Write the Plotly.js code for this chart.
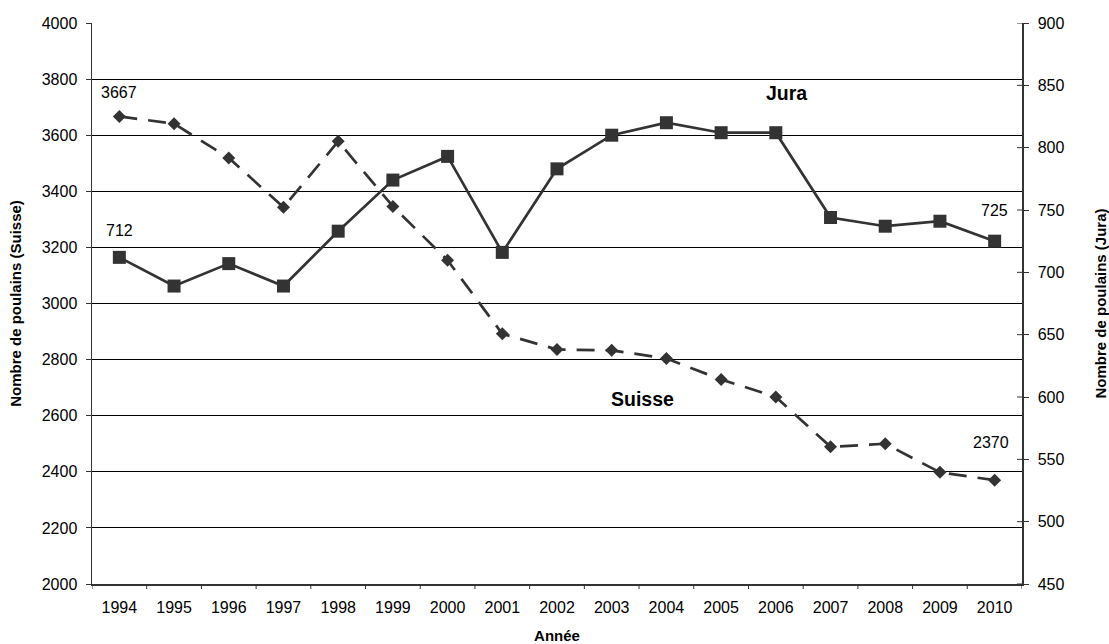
<!DOCTYPE html>
<html>
<head>
<meta charset="utf-8">
<script src="https://cdn.plot.ly/plotly-3.0.1.min.js"></script>
<style>
  html, body { margin: 0; padding: 0; background: #fff; }
  #chart { width: 1109px; height: 644px; }
</style>
</head>
<body>
<div id="chart"></div>
<script>
const years = [1994, 1995, 1996, 1997, 1998, 1999, 2000, 2001, 2002, 2003, 2004, 2005, 2006, 2007, 2008, 2009, 2010];
const yearLabels = ['1994','1995','1996','1997','1998','1999','2000','2001','2002','2003','2004','2005','2006','2007','2008','2009','2010'];
const suisse = [3667, 3641, 3519, 3343, 3578, 3346, 3154, 2892, 2836, 2833, 2804, 2729, 2667, 2489, 2500, 2398, 2370];
const jura = [712, 689, 707, 689, 733, 774, 793, 716, 783, 810, 820, 812, 812, 744, 737, 741, 725];
const leftTicks = [2000, 2200, 2400, 2600, 2800, 3000, 3200, 3400, 3600, 3800, 4000];
const rightTicks = [450, 500, 550, 600, 650, 700, 750, 800, 850, 900];

const FONT = 'Liberation Sans, Arial, sans-serif';
const INK = '#333333';
const TICKSIZE = 16;

const traces = [
  {
    x: years, y: suisse, name: 'Suisse', type: 'scatter', mode: 'lines+markers',
    xaxis: 'x', yaxis: 'y',
    line: { color: INK, width: 2.7, dash: '18px,11px' },
    marker: { symbol: 'diamond', size: 10, color: INK, line: { width: 0 } },
    cliponaxis: false
  },
  {
    x: years, y: jura, name: 'Jura', type: 'scatter', mode: 'lines+markers',
    xaxis: 'x', yaxis: 'y2',
    line: { color: INK, width: 2.7 },
    marker: { symbol: 'square', size: 13, color: INK, line: { width: 0 } },
    cliponaxis: false
  }
];

const last = years.length - 1;
const lab = (x, y, yref, yshift, xshift) => ({
  xref: 'x', yref: yref, x: x, y: y, text: String(y), showarrow: false,
  xanchor: 'center', yanchor: 'middle',
  yshift: yshift, xshift: xshift || 0,
  font: { size: TICKSIZE, family: FONT, color: '#000' }
});
const annotations = [
  lab(years[0], suisse[0], 'y', 24),
  lab(years[0], jura[0], 'y2', 27),
  lab(years[last], jura[last], 'y2', 31),
  lab(years[last], suisse[last], 'y', 38, -4),
  { xref: 'paper', yref: 'paper', x: 0.747, y: 0.875, xanchor: 'center', yanchor: 'middle',
    text: '<b>Jura</b>', showarrow: false, font: { size: 19.5, family: FONT, color: '#000' } },
  { xref: 'paper', yref: 'paper', x: 0.592, y: 0.329, xanchor: 'center', yanchor: 'middle',
    text: '<b>Suisse</b>', showarrow: false, font: { size: 19.5, family: FONT, color: '#000' } }
];

// tick marks: x ticks between categories, right axis crossing ticks
const shapes = [];
for (let i = 0; i <= years.length; i++) {
  const b = years[0] - 0.5 + i;
  shapes.push({ type: 'line', xref: 'x', yref: 'paper', ysizemode: 'pixel', yanchor: 0,
    x0: b, x1: b, y0: 0, y1: -5, line: { color: INK, width: 1 } });
}
rightTicks.forEach(v => {
  shapes.push({ type: 'line', xref: 'paper', xsizemode: 'pixel', xanchor: 1, yref: 'y2',
    x0: -5, x1: 0, y0: v, y1: v, line: { color: INK, width: 1 } });
});

const layout = {
  width: 1109, height: 644,
  margin: { l: 92, r: 87, t: 23, b: 60, pad: 0 },
  paper_bgcolor: '#fff', plot_bgcolor: '#fff',
  showlegend: false,
  font: { family: FONT, size: TICKSIZE, color: '#000' },
  xaxis: {
    range: [years[0] - 0.5, years[last] + 0.5],
    tickvals: years, ticktext: yearLabels,
    ticks: '', ticklabelstandoff: 8,
    showline: true, linecolor: INK, linewidth: 1.5,
    showgrid: false, zeroline: false,
    tickfont: { size: TICKSIZE, family: FONT, color: '#000' },
    title: { text: '<b>Année</b>', font: { size: 15, family: FONT, color: '#000' }, standoff: 16 }
  },
  yaxis: {
    range: [2000, 4000],
    tickvals: leftTicks,
    ticks: 'outside', ticklen: 5, tickcolor: INK, tickwidth: 1,
    ticklabelstandoff: 5,
    showline: true, linecolor: INK, linewidth: 1.5,
    showgrid: true, gridcolor: '#000', gridwidth: 1,
    zeroline: false,
    tickfont: { size: TICKSIZE, family: FONT, color: '#000' },
    title: { text: '<b>Nombre de poulains (Suisse)</b>', font: { size: 15, family: FONT, color: '#000' }, standoff: 16 }
  },
  yaxis2: {
    range: [450, 900],
    tickvals: rightTicks,
    overlaying: 'y', side: 'right',
    ticks: 'outside', ticklen: 5, tickcolor: INK, tickwidth: 1,
    ticklabelstandoff: 6,
    showline: true, linecolor: INK, linewidth: 1.5,
    showgrid: false, zeroline: false,
    tickfont: { size: TICKSIZE, family: FONT, color: '#000' },
    title: { text: '<b>Nombre de poulains (Jura)</b>', font: { size: 15, family: FONT, color: '#000' }, standoff: 32 }
  },
  shapes: shapes,
  annotations: annotations
};

Plotly.newPlot('chart', traces, layout, { displayModeBar: false, staticPlot: true });
</script>
</body>
</html>
